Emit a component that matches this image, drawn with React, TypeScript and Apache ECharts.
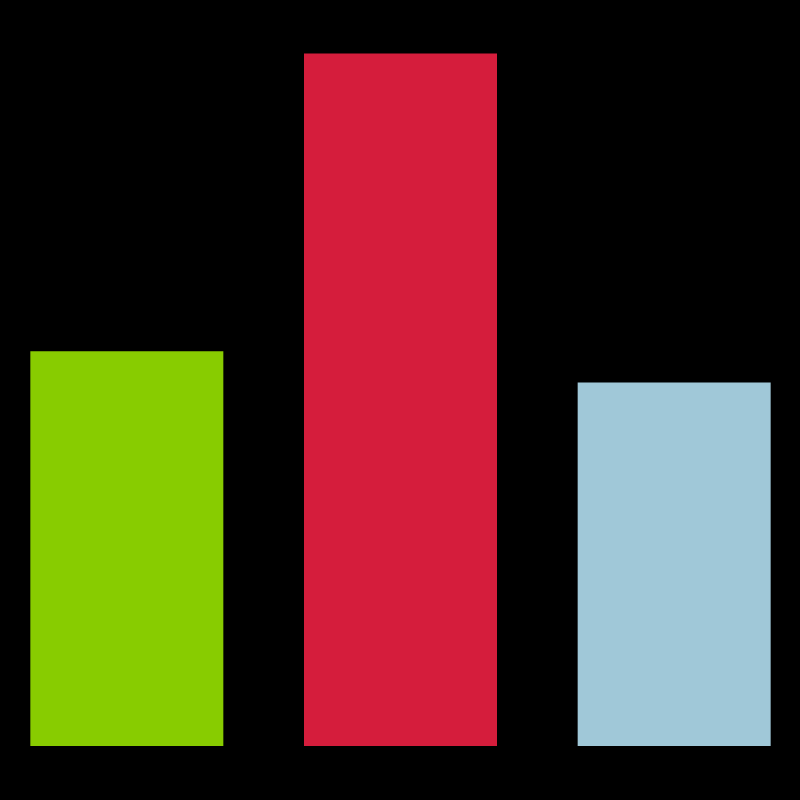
import React, { useEffect, useRef } from "react";
import * as echarts from "echarts";

const categories = ["A", "B", "C"];
const values = [57, 100, 52.5];
const colors = ["#88cc00", "#d51d3c", "#a0c8d8"];

export default function App() {
  const ref = useRef<HTMLDivElement>(null);
  useEffect(() => {
    if (!ref.current) return;
    const chart = echarts.init(ref.current, null, { renderer: "svg" });
    chart.setOption({
      animation: false,
      backgroundColor: "#000000",
      grid: { left: 0, right: 0, top: 53.5, bottom: 54, containLabel: false },
      xAxis: {
        type: "category",
        data: categories,
        show: false,
      },
      yAxis: {
        type: "value",
        min: 0,
        max: 100,
        show: false,
        splitLine: { show: false },
      },
      series: [
        {
          type: "bar",
          barWidth: 193,
          data: values.map((v, i) => ({ value: v, itemStyle: { color: colors[i] } })),
        },
      ],
    });
    return () => chart.dispose();
  }, []);
  return (
    <div style={{ position: "fixed", left: 0, top: 0, width: 800, height: 800, background: "#000", overflow: "hidden" }}>
      <div
        ref={ref}
        style={{ position: "absolute", left: -10.5, top: 0, width: 821, height: 800 }}
      />
    </div>
  );
}
